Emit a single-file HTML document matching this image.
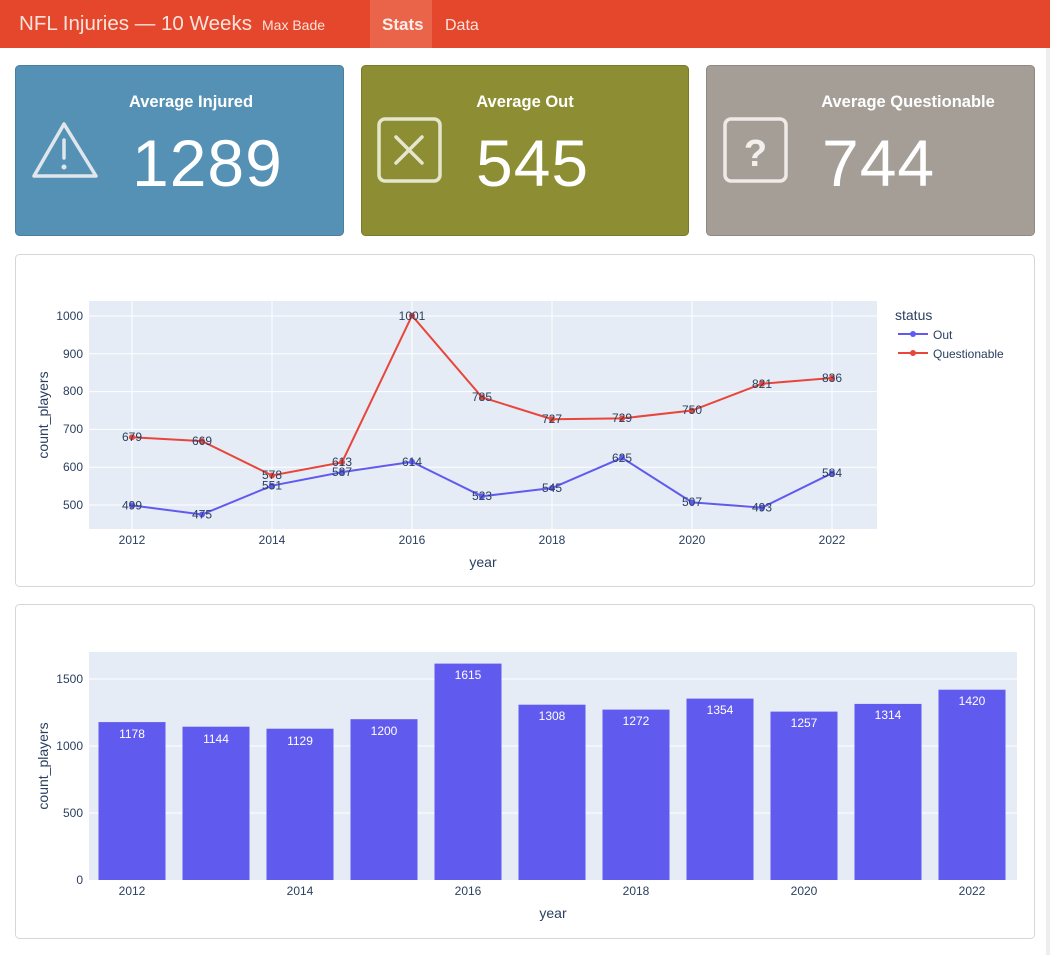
<!DOCTYPE html>
<html><head><meta charset="utf-8"><style>
html,body{margin:0;padding:0;background:#fff;width:1050px;height:955px;overflow:hidden}
svg{display:block}
text{font-family:"Liberation Sans",sans-serif}
</style></head><body>
<svg width="1050" height="955" viewBox="0 0 1050 955" xmlns="http://www.w3.org/2000/svg">
<rect x="0" y="0" width="1050" height="955" fill="#fff"/>
<rect x="1046" y="0" width="4" height="955" fill="#eee"/>
<!-- header -->
<rect x="0" y="0" width="1050" height="48" fill="#e4472b"/>
<rect x="370" y="0" width="62" height="48" fill="#ea6449"/>
<text x="19" y="30" font-size="20" fill="#fbe3dc" textLength="233" lengthAdjust="spacingAndGlyphs">NFL Injuries — 10 Weeks</text>
<text x="262" y="30" font-size="14" fill="#fbe3dc">Max Bade</text>
<text x="382" y="30" font-size="17" fill="#fdeeea" font-weight="bold">Stats</text>
<text x="445" y="30" font-size="16" fill="#fbe3dc">Data</text>
<!-- cards -->
<rect x="15.5" y="65.5" width="328" height="170" rx="4" fill="#5591b4" stroke="#4b7f9e"/>
<rect x="361.5" y="65.5" width="327" height="170" rx="4" fill="#8d8e33" stroke="#7a7b2a"/>
<rect x="706.5" y="65.5" width="328" height="170" rx="4" fill="#a59e97" stroke="#908983"/>
<g fill="#fff" text-anchor="middle" font-weight="600">
<text x="191" y="107" font-size="16.5">Average Injured</text>
<text x="525" y="107" font-size="16.5">Average Out</text>
<text x="908" y="107" font-size="16.5">Average Questionable</text>
</g>
<g fill="#fff" font-size="66" letter-spacing="1">
<text x="132" y="186">1289</text>
<text x="476" y="186">545</text>
<text x="822" y="186">744</text>
</g>
<!-- icons -->
<g stroke="#dfe7ec" stroke-width="3.5" fill="none" stroke-linejoin="round" stroke-linecap="round">
<path d="M64 124 L96 176 L34 176 Z"/>
<line x1="64" y1="140" x2="64" y2="158"/>
</g>
<circle cx="64" cy="167" r="2.5" fill="#dfe7ec"/>
<g stroke="#e6e6cf" stroke-width="3.5" fill="none" stroke-linecap="round">
<rect x="379" y="119" width="61" height="62" rx="6"/>
<line x1="396" y1="137" x2="422" y2="163"/><line x1="422" y1="137" x2="396" y2="163"/>
</g>
<g stroke="#eeeae6" stroke-width="3.5" fill="none">
<rect x="725" y="119" width="61" height="62" rx="6"/>
</g>
<text x="755.5" y="166" font-size="38" font-weight="600" fill="#f2efec" text-anchor="middle">?</text>
<!-- panels -->
<rect x="15.5" y="254.5" width="1019" height="332" rx="4" fill="#fff" stroke="#d6d6d6"/>
<rect x="15.5" y="604.5" width="1019" height="334" rx="4" fill="#fff" stroke="#d6d6d6"/>
<!-- line chart -->
<rect x="89" y="301" width="788" height="228" fill="#e5ecf6"/>
<g stroke="#fff" stroke-width="1">
<line x1="89" x2="877" y1="505" y2="505"/><line x1="89" x2="877" y1="467.2" y2="467.2"/>
<line x1="89" x2="877" y1="429.4" y2="429.4"/><line x1="89" x2="877" y1="391.6" y2="391.6"/>
<line x1="89" x2="877" y1="353.8" y2="353.8"/><line x1="89" x2="877" y1="316" y2="316"/>
<line y1="301" y2="529" x1="132" x2="132"/><line y1="301" y2="529" x1="272" x2="272"/>
<line y1="301" y2="529" x1="412" x2="412"/><line y1="301" y2="529" x1="552" x2="552"/>
<line y1="301" y2="529" x1="692" x2="692"/><line y1="301" y2="529" x1="832" x2="832"/>
</g>
<g font-size="12" fill="#2a3f5f" text-anchor="end">
<text x="83" y="509">500</text><text x="83" y="471">600</text><text x="83" y="433">700</text>
<text x="83" y="395">800</text><text x="83" y="358">900</text><text x="83" y="320">1000</text>
</g>
<g font-size="12" fill="#2a3f5f" text-anchor="middle">
<text x="132" y="544">2012</text><text x="272" y="544">2014</text><text x="412" y="544">2016</text>
<text x="552" y="544">2018</text><text x="692" y="544">2020</text><text x="832" y="544">2022</text>
</g>
<text x="483" y="567" font-size="14" fill="#2a3f5f" text-anchor="middle">year</text>
<text transform="translate(48,415) rotate(-90)" font-size="14" fill="#2a3f5f" text-anchor="middle">count_players</text>
<polyline fill="none" stroke="#615aef" stroke-width="2" points="132,505.4 202,514.5 272,485.7 342,472.1 412,461.9 482,496.3 552,488 622,457.8 692,502.4 762,507.6 832,473.2"/>
<polyline fill="none" stroke="#e8463a" stroke-width="2" points="132,437.3 202,441.1 272,475.5 342,462.3 412,315.6 482,397.3 552,419.2 622,418.4 692,410.5 762,383.7 832,378"/>
<g fill="#615aef">
<circle cx="132" cy="505.4" r="3"/><circle cx="202" cy="514.5" r="3"/><circle cx="272" cy="485.7" r="3"/><circle cx="342" cy="472.1" r="3"/><circle cx="412" cy="461.9" r="3"/><circle cx="482" cy="496.3" r="3"/><circle cx="552" cy="488" r="3"/><circle cx="622" cy="457.8" r="3"/><circle cx="692" cy="502.4" r="3"/><circle cx="762" cy="507.6" r="3"/><circle cx="832" cy="473.2" r="3"/>
</g>
<g fill="#e8463a">
<circle cx="132" cy="437.3" r="3"/><circle cx="202" cy="441.1" r="3"/><circle cx="272" cy="475.5" r="3"/><circle cx="342" cy="462.3" r="3"/><circle cx="412" cy="315.6" r="3"/><circle cx="482" cy="397.3" r="3"/><circle cx="552" cy="419.2" r="3"/><circle cx="622" cy="418.4" r="3"/><circle cx="692" cy="410.5" r="3"/><circle cx="762" cy="383.7" r="3"/><circle cx="832" cy="378" r="3"/>
</g>
<g font-size="12" fill="#2a3f5f" text-anchor="middle">
<text x="132" y="509.5">499</text><text x="202" y="518.5">475</text><text x="272" y="489.5">551</text><text x="342" y="476">587</text><text x="412" y="466">614</text><text x="482" y="500">523</text><text x="552" y="492">545</text><text x="622" y="462">625</text><text x="692" y="506">507</text><text x="762" y="511.5">493</text><text x="832" y="477">584</text>
<text x="132" y="441">679</text><text x="202" y="445">669</text><text x="272" y="479">578</text><text x="342" y="466">613</text><text x="412" y="320">1001</text><text x="482" y="401">785</text><text x="552" y="423">727</text><text x="622" y="422">729</text><text x="692" y="414">750</text><text x="762" y="388">821</text><text x="832" y="382">836</text>
</g>
<!-- legend -->
<text x="895" y="320" font-size="14" fill="#2a3f5f">status</text>
<line x1="898" x2="928" y1="334" y2="334" stroke="#615aef" stroke-width="2"/><circle cx="913" cy="334" r="3" fill="#615aef"/>
<text x="933" y="339" font-size="12" fill="#2a3f5f">Out</text>
<line x1="898" x2="928" y1="353" y2="353" stroke="#e8463a" stroke-width="2"/><circle cx="913" cy="353" r="3" fill="#e8463a"/>
<text x="933" y="358" font-size="12" fill="#2a3f5f">Questionable</text>
<!-- bar chart -->
<rect x="89" y="652" width="928" height="228" fill="#e5ecf6"/>
<g stroke="#fff"><line x1="89" x2="1017" y1="813" y2="813"/><line x1="89" x2="1017" y1="746" y2="746"/><line x1="89" x2="1017" y1="679" y2="679"/></g>
<g font-size="12" fill="#2a3f5f" text-anchor="end">
<text x="83" y="884">0</text><text x="83" y="817">500</text><text x="83" y="750">1000</text><text x="83" y="683">1500</text>
</g>
<g fill="#615aef">
<rect x="98.5" y="722.1" width="67" height="157.9"/><rect x="182.5" y="726.7" width="67" height="153.3"/><rect x="266.5" y="728.7" width="67" height="151.3"/><rect x="350.5" y="719.2" width="67" height="160.8"/><rect x="434.5" y="663.6" width="67" height="216.4"/><rect x="518.5" y="704.7" width="67" height="175.3"/><rect x="602.5" y="709.6" width="67" height="170.4"/><rect x="686.5" y="698.6" width="67" height="181.4"/><rect x="770.5" y="711.6" width="67" height="168.4"/><rect x="854.5" y="703.9" width="67" height="176.1"/><rect x="938.5" y="689.7" width="67" height="190.3"/>
</g>
<g font-size="12" fill="#fff" text-anchor="middle">
<text x="132" y="738">1178</text><text x="216" y="743">1144</text><text x="300" y="745">1129</text><text x="384" y="735">1200</text><text x="468" y="679">1615</text><text x="552" y="720">1308</text><text x="636" y="725">1272</text><text x="720" y="714">1354</text><text x="804" y="727">1257</text><text x="888" y="719">1314</text><text x="972" y="705">1420</text>
</g>
<g font-size="12" fill="#2a3f5f" text-anchor="middle">
<text x="132" y="895">2012</text><text x="300" y="895">2014</text><text x="468" y="895">2016</text>
<text x="636" y="895">2018</text><text x="804" y="895">2020</text><text x="972" y="895">2022</text>
</g>
<text x="553" y="918" font-size="14" fill="#2a3f5f" text-anchor="middle">year</text>
<text transform="translate(48,766) rotate(-90)" font-size="14" fill="#2a3f5f" text-anchor="middle">count_players</text>
</svg>
</body></html>
